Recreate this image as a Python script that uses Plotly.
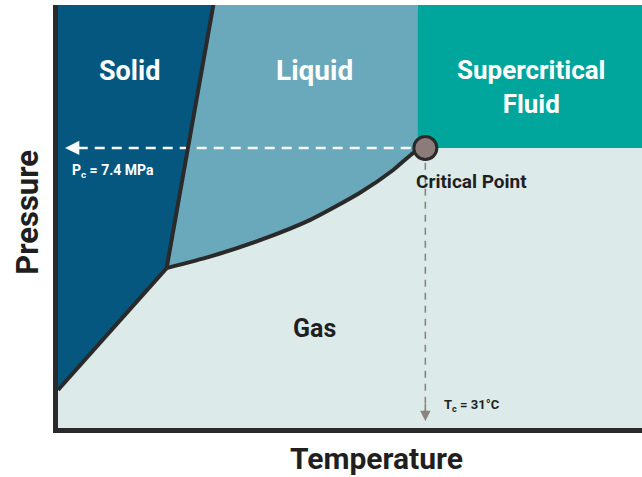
import plotly.graph_objects as go

# Phase-diagram data (temperature / pressure in relative units 0-100)
solid_x = [0, 26.6, 18.6, 0]
solid_y = [100, 100, 37.8, 9.0]
vap_curve_x = [18.6, 26.0, 34.6, 43.2, 51.7, 57.4, 60.8, 62.5]
vap_curve_y = [37.8, 40.5, 44.4, 49.2, 55.6, 61.0, 65.0, 66.2]
melt_x = [26.6, 18.6]
melt_y = [100, 37.8]
sub_x = [0, 18.6]
sub_y = [9.0, 37.8]
scf_x = [61.6, 100]
scf_y = [66.2, 100]
crit_x = [62.9]
crit_y = [66.2]
pc_label = "P<sub>c</sub> = 7.4 MPa"
tc_label = "T<sub>c</sub> = 31°C"

C_SOLID = "#05577f"
C_LIQ = "#6aa9bb"
C_SCF = "#00a59c"
C_GAS = "#dcebe9"
C_LINE = "#2a2a2a"
FONT = "Roboto, 'Liberation Sans', sans-serif"

fig = go.Figure()

# Liquid region
liq_x = [melt_x[0], scf_x[0]] + vap_curve_x[::-1] + [melt_x[0]]
liq_y = [100, 100] + vap_curve_y[::-1] + [100]
fig.add_trace(go.Scatter(x=liq_x, y=liq_y, fill="toself", fillcolor=C_LIQ,
                         line=dict(width=0), mode="lines", hoverinfo="skip"))
# Supercritical region
fig.add_trace(go.Scatter(x=[scf_x[0], scf_x[1], scf_x[1], scf_x[0], scf_x[0]],
                         y=[scf_y[1], scf_y[1], scf_y[0], scf_y[0], scf_y[1]],
                         fill="toself", fillcolor=C_SCF, line=dict(width=0),
                         mode="lines", hoverinfo="skip"))
# Solid region
fig.add_trace(go.Scatter(x=solid_x + [solid_x[0]], y=solid_y + [solid_y[0]], fill="toself",
                         fillcolor=C_SOLID, line=dict(width=0), mode="lines", hoverinfo="skip"))

# Dashed guide lines
fig.add_trace(go.Scatter(x=[crit_x[0] - 2.5, 2.0], y=[crit_y[0], crit_y[0]], mode="lines",
                         line=dict(color="#f4f8f8", width=2.5, dash="10px,7px"), hoverinfo="skip"))
fig.add_trace(go.Scatter(x=[crit_x[0], crit_x[0]], y=[crit_y[0] - 3.5, 2.5], mode="lines",
                         line=dict(color="#8a8481", width=1.6, dash="7px,6px"), hoverinfo="skip"))

# Boundaries
for bx, by in [(melt_x, melt_y), (sub_x, sub_y), (vap_curve_x, vap_curve_y)]:
    fig.add_trace(go.Scatter(x=bx, y=by, mode="lines", line=dict(color=C_LINE, width=4,
                             shape="spline" if len(bx) > 2 else "linear", smoothing=0.6),
                             hoverinfo="skip"))

# Critical point
fig.add_trace(go.Scatter(x=crit_x, y=crit_y, mode="markers",
                         marker=dict(size=23, color="#8c7b79", line=dict(color=C_LINE, width=3)),
                         hoverinfo="skip"))

ann = []
def txt(x, y, t, size, color, **kw):
    ann.append(dict(x=x, y=y, text=t, showarrow=False,
                    font=dict(family=FONT, size=size, color=color), **kw))

txt(12.3, 84.5, "<b>Solid</b>", 27, "white")
txt(44.0, 84.5, "<b>Liquid</b>", 28, "white")
txt(81.0, 80.5, "<b>Supercritical<br>Fluid</b>", 26, "white")
txt(44.0, 23.5, "<b>Gas</b>", 25, "#1f1f1f")
txt(61.0, 58.2, "<b>Critical Point</b>", 19, "#1f1f1f", xanchor="left")
txt(2.0, 60.7, "<b>" + pc_label + "</b>", 14, "white", xanchor="left")
txt(65.8, 5.4, "<b>" + tc_label + "</b>", 13, "#1f1f1f", xanchor="left")

# arrowheads
ann.append(dict(x=1.2, y=crit_y[0], ax=4.0, ay=crit_y[0], xref="x", yref="y", axref="x", ayref="y",
                showarrow=True, arrowhead=2, arrowsize=1.3, arrowwidth=2.2, arrowcolor="#f4f8f8", text=""))
ann.append(dict(x=crit_x[0], y=1.6, ax=crit_x[0], ay=6.0, xref="x", yref="y", axref="x", ayref="y",
                showarrow=True, arrowhead=2, arrowsize=1.3, arrowwidth=1.6, arrowcolor="#8a8481", text=""))

# axis titles
ann.append(dict(xref="paper", yref="paper", x=-0.0514, y=0.511, xanchor="center", yanchor="middle",
                text="<b>Pressure</b>", textangle=-90,
                showarrow=False, font=dict(family=FONT, size=31, color="#1f1f1f")))
ann.append(dict(xref="paper", yref="paper", x=0.545, y=-0.071, xanchor="center", yanchor="middle",
                text="<b>Temperature</b>",
                showarrow=False, font=dict(family=FONT, size=30, color="#1f1f1f")))

fig.update_layout(
    width=642, height=477,
    margin=dict(l=58, r=0, t=5, b=49),
    paper_bgcolor="white", plot_bgcolor=C_GAS,
    showlegend=False, annotations=ann,
    xaxis=dict(range=[0, 100], showgrid=False, zeroline=False, showticklabels=False, ticks="",
               showline=True, linecolor=C_LINE, linewidth=5, fixedrange=True),
    yaxis=dict(range=[0, 100], showgrid=False, zeroline=False, showticklabels=False, ticks="",
               showline=True, linecolor=C_LINE, linewidth=5, fixedrange=True),
)

fig.write_html("out.html", config={"displayModeBar": False},
               post_script="document.body.style.margin='0';document.body.style.overflow='hidden';")
